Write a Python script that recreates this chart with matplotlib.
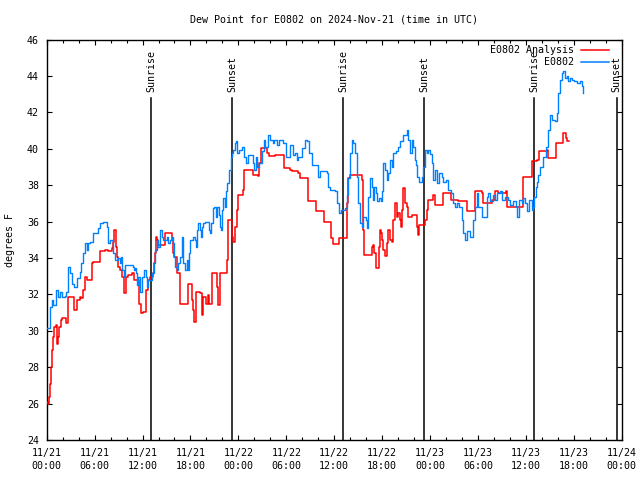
import matplotlib
matplotlib.use("Agg")
import matplotlib.pyplot as plt
from matplotlib.ticker import MultipleLocator, FixedLocator

# ---- data (hours since 2024-11-21 00:00 UTC, dew point in F) ----
obs_h = [0.00, 0.41, 0.63, 0.83, 1.16, 1.45, 1.67, 1.92, 2.29, 2.42, 2.67, 2.70, 2.92, 3.21, 3.42,
         3.76, 4.17, 4.30, 4.58, 4.80, 5.01, 5.21, 5.42, 5.84, 6.26, 6.46, 6.67, 7.09, 7.51, 7.71,
         7.93, 8.14, 8.34, 8.55, 8.97, 9.18, 9.30, 9.47, 9.64, 9.80, 10.56, 10.84, 10.97, 11.06, 11.14,
         11.27, 11.47, 11.68, 11.90, 12.18, 12.43, 12.60, 12.72, 13.15, 13.44, 13.56, 13.77, 13.97, 14.19, 14.40,
         14.60, 15.03, 15.23, 15.44, 15.65, 15.85, 15.94, 16.07, 16.28, 16.48, 16.69, 16.90, 16.98, 17.11, 17.32,
         17.53, 17.73, 17.86, 17.94, 18.36, 18.57, 18.70, 18.86, 18.98, 19.20, 19.28, 19.41, 19.61, 19.82, 20.24,
         20.36, 20.45, 20.54, 20.79, 20.95, 21.20, 21.36, 21.54, 21.70, 21.79, 21.91, 21.99, 22.11, 22.33, 22.45,
         22.61, 22.87, 23.04, 23.20, 23.37, 23.58, 23.70, 23.87, 24.08, 24.42, 24.71, 24.96, 25.24, 25.55, 25.80,
         25.96, 26.21, 26.37, 26.62, 26.92, 27.21, 27.37, 27.75, 27.96, 28.30, 28.50, 28.80, 29.09, 29.43, 29.63,
         29.97, 30.25, 30.47, 30.88, 31.09, 31.31, 31.51, 31.93, 32.35, 32.56, 32.85, 33.26, 33.72, 34.01, 34.22,
         35.06, 35.26, 35.48, 36.10, 36.39, 36.60, 36.85, 37.35, 37.57, 37.77, 37.98, 38.19, 38.39, 38.61, 38.82,
         39.02, 39.23, 39.44, 39.64, 39.98, 40.15, 40.27, 40.48, 40.70, 40.90, 41.02, 41.24, 41.40, 41.65, 41.82,
         41.99, 42.15, 42.36, 42.57, 42.78, 42.99, 43.20, 43.40, 43.74, 44.03, 44.24, 44.65, 45.08, 45.28, 45.49,
         45.71, 45.91, 46.12, 46.24, 46.41, 46.62, 46.96, 47.16, 47.37, 47.58, 47.78, 48.00, 48.21, 48.41, 48.62,
         48.84, 49.16, 49.46, 49.66, 50.00, 50.29, 50.59, 50.91, 51.13, 51.34, 51.67, 51.97, 52.17, 52.38, 52.67,
         53.01, 53.34, 53.63, 53.85, 54.05, 54.47, 54.88, 55.10, 55.30, 55.51, 55.85, 56.14, 56.35, 56.76, 56.98,
         57.39, 57.73, 58.01, 58.43, 58.77, 58.93, 59.18, 59.48, 59.68, 59.89, 60.18, 60.43, 60.73, 60.86, 61.06,
         61.27, 61.43, 61.52, 61.77, 62.18, 62.48, 62.81, 63.06, 63.31, 63.65, 63.86, 64.06, 64.28, 64.49, 64.69,
         64.90, 65.11, 65.32, 65.53, 65.74, 66.07, 66.37, 66.78, 66.99, 67.19]
obs_v = [30.16, 31.30, 31.70, 31.42, 32.25, 31.88, 32.15, 31.88, 31.90, 32.15, 32.25, 33.53, 33.17, 32.60, 32.40,
         32.90, 33.25, 33.72, 34.27, 34.80, 34.45, 34.80, 34.90, 35.37, 35.37, 35.64, 35.90, 36.00, 35.73, 34.80,
         35.00, 35.00, 34.27, 33.90, 33.99, 33.72, 34.08, 33.35, 32.98, 33.60, 33.60, 33.53, 33.35, 33.44, 33.17,
         32.50, 32.98, 32.15, 32.98, 33.35, 32.98, 32.43, 32.80, 33.17, 33.72, 34.45, 35.00, 34.63, 35.55, 35.18,
         35.00, 35.18, 34.80, 35.00, 35.18, 34.80, 34.08, 33.53, 33.35, 33.72, 34.08, 35.00, 35.18, 33.72, 33.35,
         33.90, 33.35, 34.27, 35.00, 35.18, 35.00, 34.63, 35.55, 35.92, 35.55, 35.18, 35.73, 35.92, 36.00, 36.00,
         35.55, 35.37, 35.92, 36.74, 36.83, 36.28, 36.83, 36.37, 35.73, 35.55, 36.28, 36.65, 37.29, 36.83, 37.66,
         38.12, 38.85, 39.58, 39.77, 39.95, 40.32, 40.41, 39.77, 39.95, 40.13, 39.58, 39.22, 39.67, 39.67, 39.22,
         38.85, 39.58, 39.03, 39.22, 39.86, 40.50, 40.13, 40.77, 40.50, 40.32, 40.50, 40.22, 40.50, 40.50, 40.32,
         39.58, 39.58, 40.22, 39.67, 39.77, 39.40, 39.58, 40.04, 40.50, 40.41, 39.77, 39.12, 39.12, 38.48, 38.76,
         38.70, 37.93, 37.75, 37.66, 37.02, 36.47, 36.65, 36.74, 37.47, 38.39, 39.77, 40.50, 40.32, 39.77, 38.48,
         37.02, 35.92, 35.73, 36.28, 36.10, 35.64, 37.38, 38.39, 37.93, 37.20, 37.93, 37.57, 37.11, 37.29, 37.11,
         37.66, 39.22, 38.85, 38.30, 38.67, 39.40, 39.03, 39.77, 39.86, 40.13, 40.41, 40.77, 41.05, 40.50, 39.77,
         40.50, 40.13, 39.40, 39.12, 38.48, 38.20, 38.48, 39.03, 39.95, 39.77, 39.95, 39.70, 39.22, 38.30, 38.85,
         38.12, 38.67, 38.48, 38.20, 38.30, 37.75, 37.57, 37.02, 36.83, 37.02, 36.83, 36.10, 35.37, 35.00, 35.46,
         35.18, 36.10, 36.83, 37.57, 36.83, 36.28, 36.28, 37.38, 37.57, 37.11, 37.47, 37.20, 37.57, 37.66, 37.20,
         37.38, 37.20, 36.92, 37.11, 36.83, 36.28, 37.20, 37.02, 37.29, 37.02, 36.56, 37.20, 36.65, 36.83, 37.38,
         37.93, 38.20, 38.57, 39.00, 39.58, 40.13, 41.05, 41.87, 41.60, 41.51, 41.97, 43.07, 43.80, 44.17, 44.26,
         43.90, 43.98, 43.71, 43.90, 43.80, 43.71, 43.62, 43.71, 43.43, 43.07]

ana_h = [0.00, 0.20, 0.29, 0.41, 0.54, 0.70, 0.83, 0.95, 1.13, 1.25, 1.45, 1.58, 1.79, 1.95, 2.29,
         2.42, 2.63, 2.70, 3.21, 3.46, 3.76, 4.17, 4.30, 4.58, 4.80, 5.01, 5.42, 5.63, 5.84, 6.46,
         6.67, 7.30, 7.71, 8.14, 8.34, 8.47, 8.64, 8.77, 8.97, 9.18, 9.39, 9.72, 9.89, 10.22, 10.72,
         10.97, 11.60, 11.81, 12.10, 12.31, 12.43, 12.72, 12.94, 13.27, 13.47, 13.56, 13.69, 13.77, 13.97, 14.53,
         14.81, 15.44, 15.65, 15.85, 15.98, 16.28, 16.69, 17.53, 17.73, 17.94, 18.16, 18.36, 18.48, 18.70, 19.20,
         19.41, 19.61, 19.91, 20.16, 20.36, 20.54, 20.66, 21.20, 21.36, 21.49, 21.70, 22.45, 22.61, 22.74, 22.95,
         23.17, 23.37, 23.58, 23.79, 23.99, 24.42, 24.54, 24.71, 25.46, 25.80, 26.50, 26.62, 26.80, 27.34, 27.55,
         27.88, 28.59, 29.43, 29.71, 30.47, 30.68, 31.51, 31.72, 32.56, 32.76, 33.51, 33.72, 34.44, 34.72, 35.48,
         35.60, 35.81, 36.31, 36.64, 37.35, 37.57, 37.77, 37.98, 39.23, 39.44, 39.57, 39.64, 39.73, 40.48, 40.70,
         40.90, 41.02, 41.24, 41.40, 41.61, 41.74, 41.86, 41.99, 42.15, 42.36, 42.57, 42.78, 42.99, 43.20, 43.40,
         43.61, 43.83, 44.03, 44.24, 44.37, 44.53, 44.65, 44.87, 45.08, 45.28, 45.49, 45.71, 46.12, 46.33, 46.46,
         46.66, 47.16, 47.37, 47.58, 47.78, 48.21, 48.41, 48.62, 49.46, 49.66, 50.42, 50.59, 51.13, 51.54, 52.38,
         52.59, 53.42, 53.63, 54.26, 54.47, 54.67, 55.51, 55.72, 56.14, 56.55, 57.51, 57.68, 59.48, 59.61, 59.68,
         60.52, 60.73, 61.36, 61.68, 61.99, 62.61, 62.81, 63.43, 63.74, 64.28, 64.69, 64.99, 65.11, 65.37]
ana_v = [26.10, 26.00, 26.38, 27.10, 28.03, 28.95, 29.68, 30.23, 30.32, 29.30, 29.68, 30.23, 30.60, 30.69, 30.69,
         30.42, 31.33, 31.88, 31.88, 31.15, 31.70, 31.88, 31.79, 32.25, 32.98, 32.80, 32.80, 33.72, 33.80, 33.80,
         34.36, 34.45, 34.36, 34.54, 34.90, 35.55, 34.63, 34.08, 33.53, 33.35, 32.98, 32.06, 32.98, 33.07, 33.17,
         32.80, 31.50, 30.97, 31.06, 31.06, 32.25, 32.80, 32.98, 33.17, 33.72, 34.27, 35.18, 35.00, 34.72, 34.72,
         35.37, 35.37, 35.00, 34.27, 34.08, 33.17, 31.50, 31.50, 32.60, 32.60, 31.70, 31.15, 30.50, 32.15, 32.06,
         30.88, 31.88, 31.50, 31.97, 31.50, 31.50, 33.17, 33.17, 32.43, 31.42, 33.17, 33.17, 33.90, 36.10, 36.10,
         35.18, 34.90, 35.73, 36.65, 37.47, 37.47, 37.75, 38.85, 38.85, 38.57, 38.53, 39.22, 40.04, 40.04, 39.77,
         39.62, 39.67, 39.67, 38.94, 38.85, 38.76, 38.70, 38.39, 38.39, 37.11, 37.11, 36.56, 36.56, 36.00, 36.00,
         35.09, 34.78, 34.78, 35.09, 35.09, 37.02, 38.39, 38.57, 38.57, 38.30, 37.20, 35.55, 34.18, 34.18, 34.63,
         34.72, 34.27, 33.44, 33.44, 34.63, 35.55, 35.37, 35.00, 34.45, 34.09, 34.82, 35.55, 35.00, 34.90, 36.10,
         37.02, 36.28, 36.47, 36.10, 35.73, 36.65, 37.84, 37.02, 36.83, 36.28, 36.28, 36.37, 36.37, 35.73, 35.27,
         35.83, 35.83, 36.10, 36.65, 37.20, 37.20, 37.47, 36.92, 36.92, 37.57, 37.57, 37.20, 37.20, 37.11, 37.11,
         36.56, 36.56, 37.66, 37.66, 37.57, 37.02, 37.02, 37.20, 37.66, 37.57, 37.66, 36.83, 36.83, 37.11, 38.48,
         38.48, 39.31, 39.40, 39.86, 39.86, 39.95, 39.49, 39.49, 40.32, 40.32, 40.87, 40.60, 40.41, 40.41]

sun_h = [13.10, 23.24, 37.14, 47.29, 61.06, 71.37]
sun_lbl = ["Sunrise", "Sunset", "Sunrise", "Sunset", "Sunrise", "Sunset"]

xtick_h = list(range(0, 73, 6))
xtick_lbl = ["11/21\n00:00", "11/21\n06:00", "11/21\n12:00", "11/21\n18:00",
             "11/22\n00:00", "11/22\n06:00", "11/22\n12:00", "11/22\n18:00",
             "11/23\n00:00", "11/23\n06:00", "11/23\n12:00", "11/23\n18:00",
             "11/24\n00:00"]

series_names = ["E0802 Analysis", "E0802"]
RED = "#ff0000"
BLUE = "#0080ff"

plt.rcParams['font.family'] = ['DejaVu Sans Mono']
FS = 7.2

fig = plt.figure(figsize=(6.4, 4.8), dpi=100)
ax = fig.add_axes([46.7 / 640, 1 - 440 / 480, 575 / 640, 400.3 / 480])

ax.plot(ana_h, ana_v, color=RED, lw=1.1, drawstyle="steps-post", zorder=3)
ax.plot(obs_h, obs_v, color=BLUE, lw=1.0, drawstyle="steps-post", zorder=4)

ax.set_xlim(0, 72)
ax.set_ylim(24, 46)

for h, lbl in zip(sun_h, sun_lbl):
    ax.axvline(h, ymin=0, ymax=0.854, color="black", lw=1.1, zorder=2)
    ax.text(h, 0.869, lbl, transform=ax.get_xaxis_transform(), rotation=90,
            ha="center", va="bottom", fontsize=FS, zorder=5)

ax.xaxis.set_major_locator(FixedLocator(xtick_h))
ax.set_xticklabels(xtick_lbl, linespacing=1.3)
ax.xaxis.set_minor_locator(MultipleLocator(2))
ax.yaxis.set_major_locator(MultipleLocator(2))

ax.tick_params(axis="both", which="both", direction="in", top=True, right=True,
               labelsize=FS, width=0.8)
ax.tick_params(axis="x", which="major", length=3.5, pad=6)
ax.tick_params(axis="x", which="minor", length=2.0)
ax.tick_params(axis="y", which="major", length=3.6, pad=5.5)

for s in ax.spines.values():
    s.set_linewidth(1.0)

fig.text(ax.get_position().x0 + ax.get_position().width / 2, 1 - 20 / 480,
         "Dew Point for E0802 on 2024-Nov-21 (time in UTC)",
         ha="center", va="center", fontsize=FS)
fig.text(10 / 640, 0.5, "degrees F", rotation=90, ha="center", va="center", fontsize=FS)

# legend (gnuplot style: text right-aligned, sample to the right)
for i, (name, col) in enumerate(zip(series_names, [RED, BLUE])):
    ypix = 50 + i * 12.3
    yf = (440 - ypix) / 400.3
    ax.text((574 - 46.7) / 575, yf, name, transform=ax.transAxes, ha="right",
            va="center", fontsize=FS, zorder=6)
    ax.plot([(580.7 - 46.7) / 575, (609 - 46.7) / 575], [yf, yf], transform=ax.transAxes,
            color=col, lw=1.1, clip_on=False, zorder=6)

fig.savefig("out.png", dpi=100)
